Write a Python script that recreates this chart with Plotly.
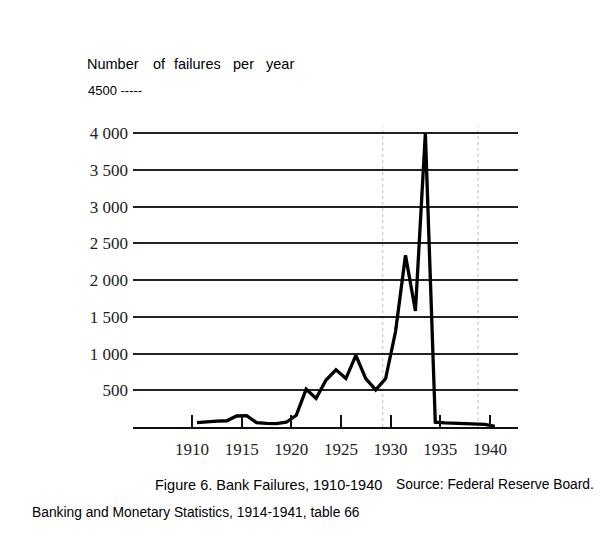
import plotly.graph_objects as go

# bank failures per year
years = list(range(1910, 1941))
failures = [60, 75, 80, 85, 150, 155, 60, 50, 45, 65,
            160, 515, 390, 640, 780, 660, 975, 660, 505, 660,
            1300, 2340, 1580, 4000, 65, 55, 50, 50, 45, 35, 10]

x_ticks = [1910, 1915, 1920, 1925, 1930, 1935, 1940]
y_ticks = [500, 1000, 1500, 2000, 2500, 3000, 3500, 4000]
y_labels = ['500', '1 000', '1 500', '2 000', '2 500', '3 000', '3 500', '4 000']
marker_years = [1929.2, 1938.8]  # faint dotted verticals in the scan

W, H = 612, 539
OFF = 8  # page body margin shifts the figure
L, R, T, B = 133 - OFF, 94 + OFF, 125.6 - OFF, 112 + OFF


def px(x):
    return (x - OFF - L) / (W - L - R)


def py(y):
    return (H - B - (y - OFF)) / (H - B - T)


sans = 'Liberation Sans, Arial, sans-serif'
serif = 'Liberation Serif, Times New Roman, serif'

fig = go.Figure()
fig.add_trace(go.Scatter(
    x=[y + 0.5 for y in years], y=failures, mode='lines',
    line=dict(color='black', width=3.3), hoverinfo='skip', showlegend=False
))

for xv in marker_years:
    fig.add_shape(type='line', x0=xv, x1=xv, y0=0, y1=4100, xref='x', yref='y',
                  line=dict(color='#d0d0d0', width=1.4, dash='dot'), layer='below')

# title words are spread out in the original
words = [('Number', 85), ('of', 151), ('failures', 172), ('per', 231), ('year', 264)]
for w, x0 in words:
    fig.add_annotation(text=w, x=px(x0), y=py(64), xref='paper', yref='paper',
                       xanchor='left', yanchor='middle', showarrow=False,
                       font=dict(family=sans, size=14.5, color='black'))

fig.add_annotation(text='4500 -----', x=px(86), y=py(90), xref='paper', yref='paper',
                   xanchor='left', yanchor='middle', showarrow=False,
                   font=dict(family=sans, size=13, color='black'))
fig.add_annotation(text='Figure 6. Bank Failures, 1910-1940', x=px(153), y=py(485),
                   xref='paper', yref='paper', xanchor='left', yanchor='middle',
                   showarrow=False, font=dict(family=sans, size=14.5, color='black'))
fig.add_annotation(text='Source: Federal Reserve Board.', x=px(394), y=py(485),
                   xref='paper', yref='paper', xanchor='left', yanchor='middle',
                   showarrow=False, font=dict(family=sans, size=13.8, color='black'))
fig.add_annotation(text='Banking and Monetary Statistics, 1914-1941, table 66', x=px(30), y=py(513),
                   xref='paper', yref='paper', xanchor='left', yanchor='middle',
                   showarrow=False, font=dict(family=sans, size=13.8, color='black'))

fig.update_layout(
    width=W, height=H,
    margin=dict(l=L, r=R, t=T, b=B),
    paper_bgcolor='white', plot_bgcolor='white',
    xaxis=dict(range=[1904.06, 1942.83], tickvals=x_ticks, ticks='inside', ticklen=12,
               tickwidth=1.5, tickcolor='#111', showgrid=False, zeroline=False,
               showline=True, linecolor='#111', linewidth=1.6, ticklabelstandoff=6,
               tickfont=dict(family=serif, size=17, color='#222')),
    yaxis=dict(range=[0, 4100], tickvals=y_ticks, ticktext=y_labels, ticks='',
               showgrid=True, gridcolor='#222', gridwidth=1.5, zeroline=False,
               showline=False, ticklabelstandoff=4,
               tickfont=dict(family=serif, size=17, color='#222')),
)

fig.write_html('out.html')
